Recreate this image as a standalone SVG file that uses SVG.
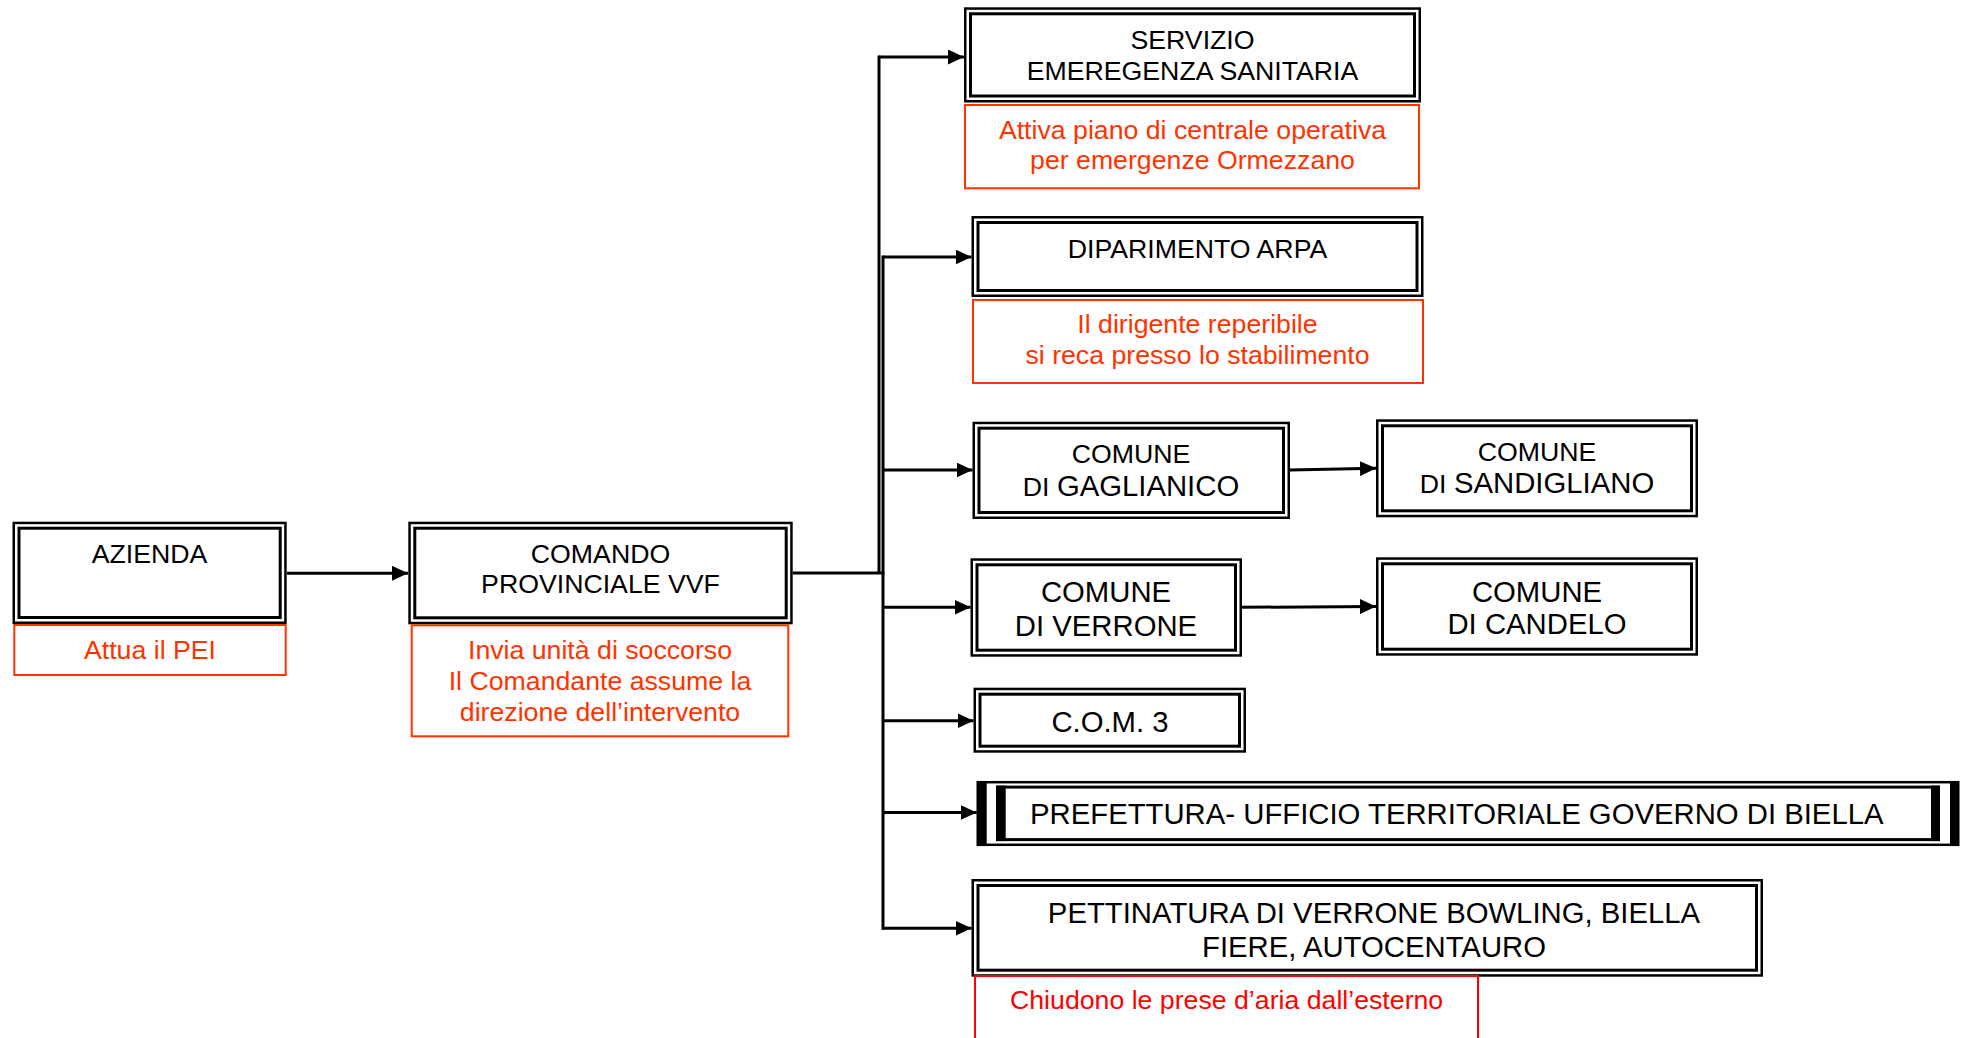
<svg xmlns="http://www.w3.org/2000/svg" width="1962" height="1038" viewBox="0 0 1962 1038">
<style>
text{font-family:"Liberation Sans",Arial,sans-serif;fill:#000;text-anchor:middle}
.s{font-size:26.7px}
.l{font-size:29.3px}
.r{fill:#FF3300}
.rr{fill:#FF0000}
.o{fill:#fff;stroke:#000;stroke-width:2.5}
.i{fill:none;stroke:#000;stroke-width:3}
.rb{fill:#fff;stroke:#FF3300;stroke-width:2}
.rb2{fill:#fff;stroke:#FF0000;stroke-width:2}
.c{fill:none;stroke:#000;stroke-width:3}
.a{marker-end:url(#ah)}
</style>
<defs>
<marker id="ah" markerUnits="userSpaceOnUse" markerWidth="16" markerHeight="15" refX="16" refY="7.5" orient="auto">
<path d="M0,0 L16,7.5 L0,15 z" fill="#000"/>
</marker>
</defs>
<rect width="1962" height="1038" fill="#fff"/>

<g id="connectors">
<path class="c" d="M879,55.5 V574"/>
<path class="c" d="M883,255.5 V929.8"/>
<path class="c" d="M792.7,573 H884.5"/>
<path class="c a" d="M287,573.3 H408"/>
<path class="c a" d="M879,57 H964"/>
<path class="c a" d="M883,257 H971.5"/>
<path class="c a" d="M883,470 H972.5"/>
<path class="c a" d="M883,607.3 H970.5"/>
<path class="c a" d="M883,720.7 H973.5"/>
<path class="c a" d="M883,812.5 H976.7"/>
<path class="c a" d="M883,928.3 H971.5"/>
<path class="c a" d="M1290,470 L1376,468.3"/>
<path class="c a" d="M1242,607.3 L1376,606.5"/>
</g>

<g id="azienda">
<rect class="o" x="13.75" y="522.95" width="271.7" height="99.8"/>
<rect class="i" x="19" y="528.2" width="261.2" height="89.3"/>
<text class="s" x="149.6" y="563.3">AZIENDA</text>
</g>
<g id="azienda-note">
<rect class="rb" x="14.3" y="625" width="271.4" height="50"/>
<text class="s r" x="150" y="659">Attua il PEI</text>
</g>

<g id="comando">
<rect class="o" x="409.55" y="522.95" width="381.9" height="100.1"/>
<rect class="i" x="414.8" y="528.2" width="371.4" height="89.6"/>
<text class="s" x="600.5" y="563.3">COMANDO</text>
<text class="s" x="600.5" y="593.3">PROVINCIALE VVF</text>
</g>
<g id="comando-note">
<rect class="rb" x="411.7" y="625.3" width="376.6" height="111"/>
<text class="s r" x="600" y="659">Invia unità di soccorso</text>
<text class="s r" x="600" y="690">Il Comandante assume la</text>
<text class="s r" x="600" y="720.7">direzione dell’intervento</text>
</g>

<g id="servizio">
<rect class="o" x="965.25" y="8.55" width="454.5" height="92.7"/>
<rect class="i" x="970.5" y="13.8" width="444" height="82.2"/>
<text class="s" x="1192.5" y="49.3">SERVIZIO</text>
<text class="s" x="1192.5" y="80">EMEREGENZA SANITARIA</text>
</g>
<g id="servizio-note">
<rect class="rb" x="965" y="105" width="454" height="83.3"/>
<text class="s r" x="1192.5" y="139.3">Attiva piano di centrale operativa</text>
<text class="s r" x="1192.5" y="169.3">per emergenze Ormezzano</text>
</g>

<g id="arpa">
<rect class="o" x="972.75" y="217.25" width="449.5" height="78.5"/>
<rect class="i" x="978" y="222.5" width="439" height="68"/>
<text class="s" x="1197.5" y="258.3">DIPARIMENTO ARPA</text>
</g>
<g id="arpa-note">
<rect class="rb" x="973" y="300" width="450" height="83"/>
<text class="s r" x="1197.5" y="333.3">Il dirigente reperibile</text>
<text class="s r" x="1197.5" y="364">si reca presso lo stabilimento</text>
</g>

<g id="gaglianico">
<rect class="o" x="973.75" y="422.95" width="315" height="94.8"/>
<rect class="i" x="979" y="428.2" width="304.5" height="84.3"/>
<text class="s" x="1131" y="462.7">COMUNE</text>
<text x="1131" y="495.7"><tspan class="s">DI </tspan><tspan class="l">GAGLIANICO</tspan></text>
</g>

<g id="sandigliano">
<rect class="o" x="1377.25" y="420.55" width="319.5" height="95.5"/>
<rect class="i" x="1382.5" y="425.8" width="309" height="85"/>
<text class="s" x="1537" y="461">COMUNE</text>
<text x="1537" y="493.3"><tspan class="s">DI </tspan><tspan class="l">SANDIGLIANO</tspan></text>
</g>

<g id="verrone">
<rect class="o" x="971.75" y="559.55" width="269" height="95.9"/>
<rect class="i" x="977" y="564.8" width="258.5" height="85.4"/>
<text class="l" x="1106" y="602.3">COMUNE</text>
<text class="l" x="1106" y="635.7">DI VERRONE</text>
</g>

<g id="candelo">
<rect class="o" x="1377.25" y="558.55" width="319.5" height="95.9"/>
<rect class="i" x="1382.5" y="563.8" width="309" height="85.4"/>
<text class="l" x="1537" y="601.7">COMUNE</text>
<text class="l" x="1537" y="634.3">DI CANDELO</text>
</g>

<g id="com3">
<rect class="o" x="974.75" y="688.95" width="270" height="62.5"/>
<rect class="i" x="980" y="694.2" width="259.5" height="52"/>
<text class="l" x="1110" y="731.7">C.O.M. 3</text>
</g>

<g id="prefettura">
<rect class="o" x="977.95" y="782.2" width="980.1" height="62.6"/>
<rect x="976.7" y="781" width="10" height="65" fill="#000"/>
<rect x="1950" y="781" width="9.3" height="65" fill="#000"/>
<rect class="i" x="997.5" y="787.1" width="941" height="52.5"/>
<rect x="996" y="785.6" width="9.7" height="55.5" fill="#000"/>
<rect x="1931" y="785.6" width="9" height="55.5" fill="#000"/>
<text class="l" x="1030" y="824.3" style="text-anchor:start">PREFETTURA- UFFICIO TERRITORIALE GOVERNO DI BIELLA</text>
</g>

<g id="pettinatura">
<rect class="o" x="972.75" y="880.25" width="789" height="95.2"/>
<rect class="i" x="978" y="885.5" width="778.5" height="84.7"/>
<text class="l" x="1374" y="923.3">PETTINATURA DI VERRONE BOWLING, BIELLA</text>
<text class="l" x="1374" y="956.7">FIERE, AUTOCENTAURO</text>
</g>
<g id="pettinatura-note">
<rect class="rb2" x="975" y="976" width="503" height="80"/>
<text class="s rr" x="1010" y="1009.3" style="text-anchor:start">Chiudono le prese d’aria dall’esterno</text>
</g>
</svg>
